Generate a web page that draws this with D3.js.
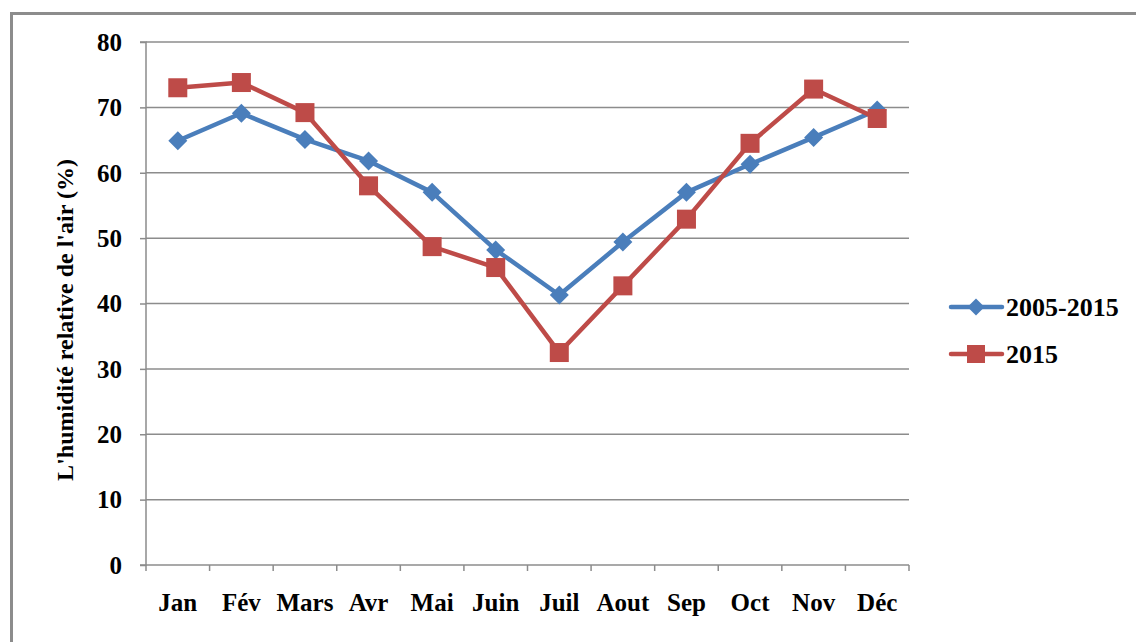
<!DOCTYPE html>
<html><head><meta charset="utf-8">
<script src="https://cdn.jsdelivr.net/npm/d3@7"></script>
<style>body{margin:0;background:#fff}svg{display:block}</style>
</head><body>
<script>
const months = ["Jan","Fév","Mars","Avr","Mai","Juin","Juil","Aout","Sep","Oct","Nov","Déc"];
const avg2005_2015 = [64.9,69.1,65.1,61.8,57.0,48.2,41.3,49.4,57.0,61.3,65.4,69.6];
const year2015 = [73.0,73.8,69.2,58.0,48.7,45.5,32.5,42.7,52.9,64.5,72.8,68.3];
const yTicks = [0,10,20,30,40,50,60,70,80];
const seriesNames = ["2005-2015","2015"];

const W=1136,H=642;
const svg=d3.select("body").append("svg").attr("width",W).attr("height",H);
const font="'Liberation Serif','Times New Roman',serif";
// outer frame
svg.append("path").attr("d",`M11.5,${H} V13.5 H${W}`).attr("fill","none").attr("stroke","#8c8c8c").attr("stroke-width",3);

const L=146,R=909,T=42,B=565;
const x=d3.scaleBand().domain(months).range([L,R]);
const y=d3.scaleLinear().domain([0,80]).range([B,T]);

// gridlines
svg.append("g").selectAll("line").data(yTicks.filter(d=>d>0)).join("line")
 .attr("x1",L).attr("x2",R).attr("y1",d=>y(d)).attr("y2",d=>y(d))
 .attr("stroke","#8c8c8c").attr("stroke-width",1.5);

// y axis
const ya=svg.append("g").attr("transform",`translate(${L},0)`)
 .call(d3.axisLeft(y).tickValues(yTicks).tickSize(6).tickPadding(18));
ya.select(".domain").attr("stroke","#8c8c8c").attr("stroke-width",1.5).attr("d",`M-6,${T}H0V${B}H-6`);
ya.selectAll(".tick line").attr("stroke","#8c8c8c").attr("stroke-width",1.5);
ya.selectAll("text").attr("font-family",font).attr("font-weight","bold").attr("font-size",25).attr("fill","#000").attr("dy","0.33em");

// x axis
const xa=svg.append("g").attr("transform",`translate(0,${B})`)
 .call(d3.axisBottom(x).tickSize(0).tickPadding(28));
xa.select(".domain").attr("stroke","#8c8c8c").attr("stroke-width",1.5).attr("d",`M${L},0H${R}`);
xa.selectAll("text").attr("font-family",font).attr("font-weight","bold").attr("font-size",25).attr("fill","#000");
const bounds=months.map(m=>x(m)).concat([R]);
xa.append("g").selectAll("line").data(bounds).join("line")
 .attr("x1",d=>d).attr("x2",d=>d).attr("y1",0).attr("y2",6)
 .attr("stroke","#8c8c8c").attr("stroke-width",1.5);

// y title
svg.append("text").attr("transform",`translate(73,320) rotate(-90)`)
 .attr("text-anchor","middle").attr("font-family",font).attr("font-weight","bold")
 .attr("font-size",24).text("L'humidité relative de l'air (%)");

const cx=m=>x(m)+x.bandwidth()/2;
const line=d3.line().x((d,i)=>cx(months[i])).y(d=>y(d));
const colors=["#4A7EBB","#BE4B48"];
const diamond=(g,px,py,s)=>g.append("path").attr("d",`M${px},${py-s}L${px+s},${py}L${px},${py+s}L${px-s},${py}Z`);
const sq=(g,px,py,s)=>g.append("rect").attr("x",px-s).attr("y",py-s).attr("width",2*s).attr("height",2*s);

// series 1
const g1=svg.append("g");
g1.append("path").datum(avg2005_2015).attr("d",line).attr("fill","none").attr("stroke",colors[0]).attr("stroke-width",4.5).attr("stroke-linejoin","round");
avg2005_2015.forEach((v,i)=>diamond(g1,cx(months[i]),y(v),9.5).attr("fill",colors[0]));
// series 2
const g2=svg.append("g");
g2.append("path").datum(year2015).attr("d",line).attr("fill","none").attr("stroke",colors[1]).attr("stroke-width",4.5).attr("stroke-linejoin","round");
year2015.forEach((v,i)=>sq(g2,cx(months[i]),y(v),9.5).attr("fill",colors[1]));

// legend
const lg=svg.append("g");
[307,354].forEach((ly,i)=>{
  lg.append("line").attr("x1",951).attr("x2",1002).attr("y1",ly).attr("y2",ly).attr("stroke",colors[i]).attr("stroke-width",4.5).attr("stroke-linecap","round");
  if(i===0) diamond(lg,976,ly,8.5).attr("fill",colors[0]); else sq(lg,976,ly,9).attr("fill",colors[1]);
  lg.append("text").attr("x",1006).attr("y",ly+9).attr("font-family",font).attr("font-weight","bold").attr("font-size",26).text(seriesNames[i]);
});
</script>
</body></html>
